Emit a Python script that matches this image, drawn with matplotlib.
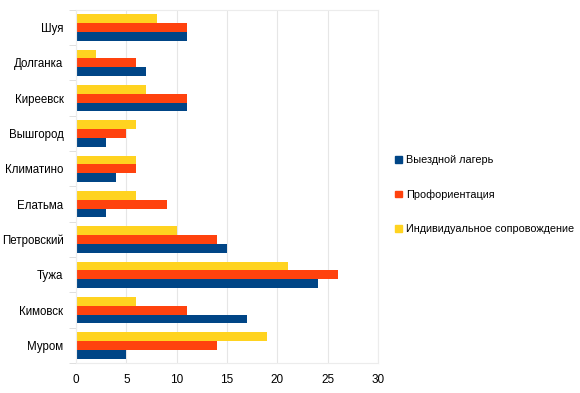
import numpy as np
import matplotlib.pyplot as plt
from matplotlib.patches import Patch

plt.rcParams['font.family'] = ['Liberation Sans', 'DejaVu Sans']

# Данные
cities = ['Шуя', 'Долганка', 'Киреевск', 'Вышгород', 'Климатино',
          'Елатьма', 'Петровский', 'Тужа', 'Кимовск', 'Муром']
lager = [11, 7, 11, 3, 4, 3, 15, 24, 17, 5]
proforient = [11, 6, 11, 5, 6, 9, 14, 26, 11, 14]
soprov = [8, 2, 7, 6, 6, 6, 10, 21, 6, 19]

series_names = ['Выездной лагерь', 'Профориентация', 'Индивидуальное сопровождение']
colors = ['#004586', '#ff420e', '#ffd320']

fig = plt.figure(figsize=(5.8, 3.93), dpi=100)
ax = fig.add_axes([0.131, 0.076, 0.521, 0.899])

y = np.arange(len(cities))
h = 0.25
ax.barh(y + h, lager, height=h, color=colors[0])
ax.barh(y, proforient, height=h, color=colors[1])
ax.barh(y - h, soprov, height=h, color=colors[2])

ax.set_ylim(len(cities) - 0.5, -0.5)
ax.set_xlim(0, 30)
ax.set_xticks(range(0, 31, 5))
ax.set_yticks(y)
ax.set_yticklabels(cities)
ax.set_yticks(np.arange(-0.5, len(cities), 1), minor=True)

ax.tick_params(axis='y', which='major', length=0, pad=9, labelsize=8.3)
ax.tick_params(axis='y', which='minor', length=5, color='#d9d9d9')
ax.tick_params(axis='x', length=0, pad=8, labelsize=8.5)

ax.grid(axis='x', color='#e6e6e6', linewidth=0.8)
ax.set_axisbelow(True)
for s in ax.spines.values():
    s.set_color('#ececec')
    s.set_linewidth(0.8)

handles = [Patch(color=c) for c in colors]
fig.legend(handles, series_names, loc='center left', bbox_to_anchor=(0.665, 0.505),
           frameon=False, fontsize=7.8, handlelength=0.6, handleheight=0.6,
           handletextpad=0.35, labelspacing=2.25)

fig.savefig('out.png', dpi=100)
